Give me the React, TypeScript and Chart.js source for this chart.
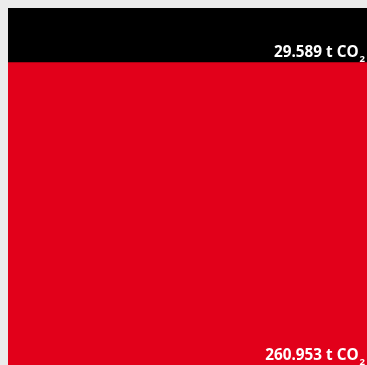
import React, { useEffect, useRef } from "react";
import { Chart, registerables } from "chart.js";

Chart.register(...registerables);

const categories = ["CO2"];
const seriesNames = ["Rot", "Schwarz"];
const redValues = [260.953];
const blackValues = [29.589];
const valueLabels = ["260.953", "29.589"];
const unitLabel = "t CO";
const subscriptLabel = "2";

const labelPlugin = {
  id: "segLabels",
  afterDatasetsDraw(chart: any) {
    const ctx = chart.ctx;
    ctx.save();
    chart.data.datasets.forEach((ds: any, i: number) => {
      const meta = chart.getDatasetMeta(i);
      const el = meta.data[0];
      if (!el) return;
      const props = el.getProps(["x", "y", "base", "width"], true);
      const right = props.x + props.width / 2 - 2;
      const bottom = Math.max(props.base, props.y);
      const baseline = Math.min(bottom, chart.chartArea.bottom) - 5.5;
      ctx.fillStyle = "#ffffff";
      ctx.textBaseline = "alphabetic";
      ctx.font = "bold 9.5px 'Open Sans'";
      const subW = ctx.measureText(subscriptLabel).width;
      ctx.textAlign = "right";
      ctx.fillText(subscriptLabel, right, baseline + 5);
      ctx.font = "bold 15.3px 'Open Sans'";
      ctx.fillText(valueLabels[i] + " " + unitLabel, right - subW - 1, baseline);
    });
    ctx.restore();
  },
};

export default function App() {
  const ref = useRef<HTMLCanvasElement>(null);
  useEffect(() => {
    document.documentElement.style.overflow = "hidden";
    document.body.style.background = "#ebebeb";
    const root = document.getElementById("root");
    if (root) root.style.overflow = "visible";
    const chart = new Chart(ref.current!, {
      type: "bar",
      data: {
        labels: categories,
        datasets: [
          { label: seriesNames[0], data: redValues, backgroundColor: "#e2001a", borderWidth: 0 },
          { label: seriesNames[1], data: blackValues, backgroundColor: "#000000", borderWidth: 0 },
        ],
      },
      options: {
        animation: false,
        responsive: false,
        maintainAspectRatio: false,
        layout: { padding: 0 },
        datasets: { bar: { barPercentage: 1, categoryPercentage: 1 } },
        plugins: { legend: { display: false }, tooltip: { enabled: false } },
        scales: {
          x: { stacked: true, display: false },
          y: { stacked: true, display: false, min: 97, max: 290.542 },
        },
      },
      plugins: [labelPlugin],
    });
    return () => chart.destroy();
  }, []);
  return (
    <div style={{ position: "absolute", left: 8, top: 8, width: 359, height: 357 }}>
      <canvas ref={ref} width={359} height={357} style={{ display: "block", width: 359, height: 357, maxWidth: "none" }} />
    </div>
  );
}
